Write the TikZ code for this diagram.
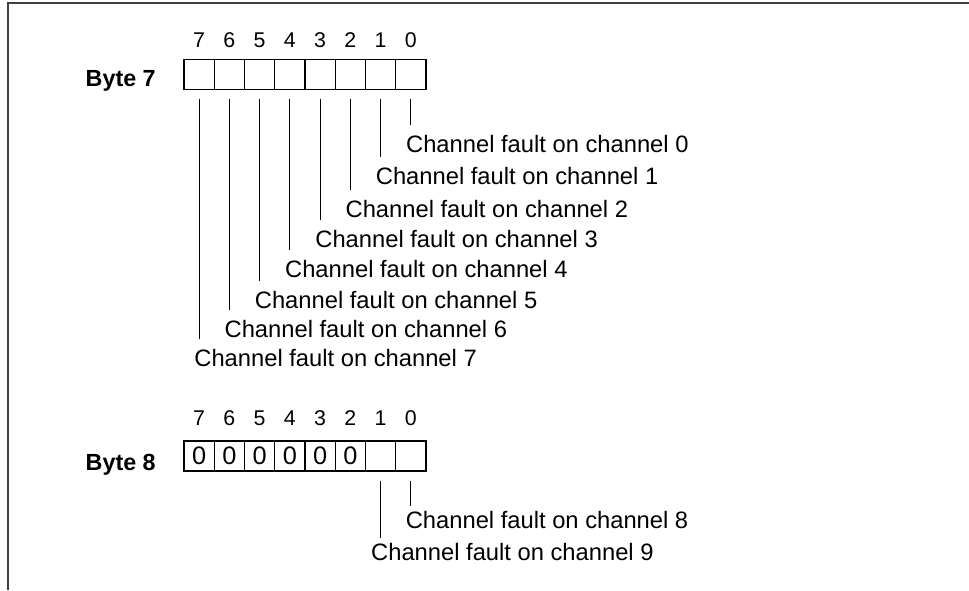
\documentclass[tikz,border=0pt]{standalone}
\usepackage{fontspec}
\setmainfont{Liberation Sans}

\tikzset{
  bitcell/.style={draw, line width=0.8pt, minimum width=22.69pt, minimum height=22.5pt,
    inner sep=0pt, font=\fontsize{19}{22}\selectfont},
  bitnum/.style={anchor=base, inner sep=0pt, font=\fontsize{16}{18}\selectfont},
  faultlab/.style={anchor=base west, inner sep=0pt, font=\fontsize{17.8}{20}\selectfont},
  bytelab/.style={anchor=base east, inner sep=0pt, font=\fontsize{17.5}{20}\selectfont\bfseries},
  lead/.style={line width=0.8pt},
  frame/.style={line width=1.6pt, black!75}
}

\begin{document}
\begin{tikzpicture}[x=0.75pt, y=-0.75pt]
\useasboundingbox (0,0) rectangle (969,590);
\draw[frame] (8,590) -- (8,3) -- (969,3);

% byte 7
\node[bytelab] (byte7) at (156,86) {Byte 7};
\foreach \b in {0,...,7}{%
  \node[bitcell] (a\b) at ({199.125+30.25*(7-\b)}, 74.3) {};
  \node[bitnum] (na\b) at ({199.125+30.25*(7-\b)}, 47.5) {\b};}
\foreach \b/\yb in {0/152, 1/184, 2/217, 3/247, 4/277, 5/308, 6/337, 7/366}{%
  \node[faultlab] (fa\b) at ({194.125+30.25*(7-\b)}, \yb) {Channel fault on channel \b};
  \draw[lead] ([yshift=-6.5pt]a\b.south) -- ([yshift=7.5pt]a\b.south |- fa\b.north);}

% byte 8
\node[bytelab] (byte8) at (156,470) {Byte 8};
\foreach \b in {0,...,7}{%
  \ifnum\b>1 \def\val{0}\else\def\val{}\fi
  \node[bitcell] (b\b) at ({199.125+30.25*(7-\b)}, 456) {\val};
  \node[bitnum] (nb\b) at ({199.125+30.25*(7-\b)}, 425) {\b};}
\foreach \b/\ch/\yb/\dx in {0/8/528/5.3, 1/9/560/9.7}{%
  \node[faultlab] (fb\b) at ({199.125+30.25*(7-\b)-\dx}, \yb) {Channel fault on channel \ch};
  \draw[lead] ([yshift=-7.3pt]b\b.south) -- ([yshift=3.2pt]b\b.south |- fb\b.north);}
\end{tikzpicture}
\end{document}
